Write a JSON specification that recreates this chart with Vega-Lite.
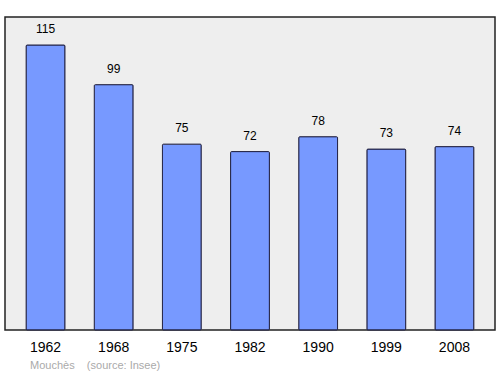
{
  "$schema": "https://vega.github.io/schema/vega-lite/v6.json",
  "width": 490,
  "height": 313,
  "autosize": "none",
  "padding": {"left": 5, "top": 17, "right": 5, "bottom": 44},
  "background": "white",
  "config": {
    "font": "Liberation Sans",
    "view": {"fill": "#eeeeee", "stroke": "#222222", "strokeWidth": 1.5}
  },
  "title": {
    "text": "Mouchès\u00a0\u00a0\u00a0\u00a0(source: Insee)",
    "orient": "bottom",
    "anchor": "start",
    "dx": 25,
    "offset": 6,
    "fontSize": 11,
    "fontWeight": "normal",
    "color": "#aaaaaa",
    "font": "Liberation Sans"
  },
  "data": {
    "values": [
      {"year": "1962", "pop": 115},
      {"year": "1968", "pop": 99},
      {"year": "1975", "pop": 75},
      {"year": "1982", "pop": 72},
      {"year": "1990", "pop": 78},
      {"year": "1999", "pop": 73},
      {"year": "2008", "pop": 74}
    ]
  },
  "encoding": {
    "x": {
      "field": "year",
      "type": "ordinal",
      "sort": null,
      "scale": {"paddingInner": 0.43, "paddingOuter": 0.31},
      "axis": {
        "title": null,
        "labelAngle": 0,
        "ticks": false,
        "domain": false,
        "labelFontSize": 14,
        "labelColor": "#000000",
        "labelPadding": 10
      }
    },
    "y": {
      "field": "pop",
      "type": "quantitative",
      "scale": {"domain": [0, 126.3], "nice": false},
      "axis": null
    }
  },
  "layer": [
    {
      "mark": {"type": "bar", "color": "#7799ff", "stroke": "#222244", "strokeWidth": 1, "cornerRadius": 1}
    },
    {
      "mark": {"type": "text", "baseline": "bottom", "dy": -9, "fontSize": 12, "color": "#000000"},
      "encoding": {"text": {"field": "pop", "type": "quantitative"}}
    }
  ]
}
